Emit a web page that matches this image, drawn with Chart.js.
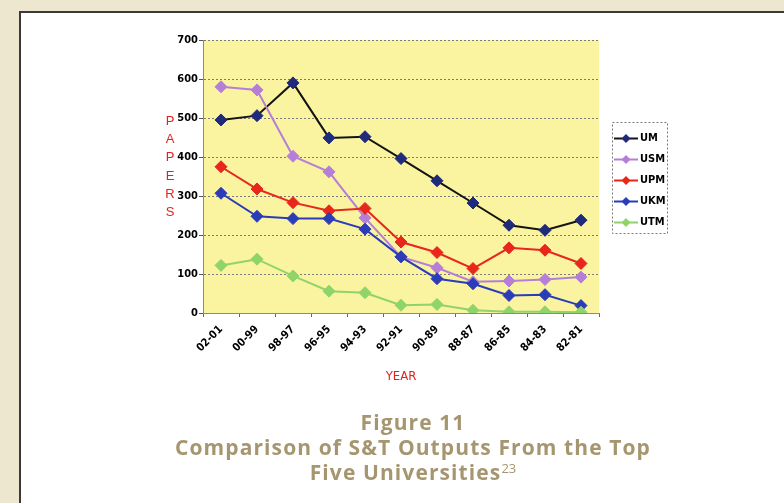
<!DOCTYPE html>
<html><head><meta charset="utf-8">
<script src="https://cdn.jsdelivr.net/npm/chart.js@4.4.0/dist/chart.umd.min.js"></script>
<style>
html,body{margin:0;padding:0;width:784px;height:503px;overflow:hidden;background:#eee7cf;}
#frame{position:absolute;left:19px;top:11px;width:820px;height:540px;background:#fff;border:2px solid #3a3a3a;}
#c{position:absolute;left:0;top:0;}
#ytitle{position:absolute;left:163px;top:112px;width:14px;color:#e3231b;font:13px "Liberation Sans","Arial",sans-serif;line-height:18.2px;text-align:center;}
#xtitle{position:absolute;left:361px;width:80px;top:368px;text-align:center;color:#e3231b;font:13px "DejaVu Sans Condensed",sans-serif;}
#title{position:absolute;left:0;width:826px;top:410px;text-align:center;color:#a69670;font:bold 21px "Open Sans",Lato,sans-serif;line-height:25px;letter-spacing:1.1px;}
#title sup{font-size:13px;vertical-align:top;position:relative;top:-4px;font-weight:normal;letter-spacing:0;}
</style>
</head><body>
<div id="frame"></div>
<canvas id="c" width="784" height="503"></canvas>
<div id="ytitle">P<br>A<br>P<br>E<br>R<br>S</div>
<div id="xtitle">YEAR</div>
<div id="title">Figure 11<br>Comparison of S&amp;T Outputs From the Top<br>Five Universities<sup>23</sup></div>
<script>
const categories = ['02-01','00-99','98-97','96-95','94-93','92-91','90-89','88-87','86-85','84-83','82-81'];
const UM  = [495, 506, 590, 449, 452, 396, 339, 282, 225, 212, 238];
const USM = [580, 572, 402, 362, 244, 144, 116, 80, 82, 86, 92];
const UPM = [375, 318, 283, 262, 268, 182, 155, 114, 167, 161, 127];
const UKM = [307, 248, 242, 242, 215, 144, 88, 75, 45, 47, 19];
const UTM = [122, 138, 95, 56, 52, 20, 22, 7, 3, 3, 2];
const yTicks = [0, 100, 200, 300, 400, 500, 600, 700];

const seriesNames = ['UM','USM','UPM','UKM','UTM'];
const seriesData = [UM, USM, UPM, UKM, UTM];
const lineColors = ['#141414','#b57fd8','#e8261c','#2b3cb8','#8fd46a'];
const pointColors = ['#1f2a7a','#b57fd8','#e8261c','#2b3cb8','#8fd46a'];

const narrow = '"DejaVu Sans Condensed","Liberation Sans Narrow",Arial,sans-serif';

const plotBg = {
  id:'plotBg',
  beforeDraw(chart){
    const a = chart.chartArea, ctx = chart.ctx;
    ctx.save(); ctx.fillStyle = '#faf3a0'; ctx.fillRect(a.left, a.top, a.right-a.left, a.bottom-a.top); ctx.restore();
  }
};

const boxLegend = {
  id:'boxLegend',
  afterDraw(chart){
    const ctx = chart.ctx; ctx.save();
    const x0 = 612, y0 = 122, w = 55, h = 111;
    ctx.setLineDash([2,2]); ctx.strokeStyle = '#777'; ctx.lineWidth = 1;
    ctx.strokeRect(x0+0.5, y0+0.5, w, h);
    ctx.setLineDash([]);
    chart.data.datasets.forEach((ds, i) => {
      const y = 138.5 + i*21;
      ctx.strokeStyle = ds.borderColor; ctx.lineWidth = 2;
      ctx.beginPath(); ctx.moveTo(614, y); ctx.lineTo(638, y); ctx.stroke();
      ctx.fillStyle = ds.pointBackgroundColor;
      ctx.beginPath(); ctx.moveTo(626, y-4.5); ctx.lineTo(630.5, y); ctx.lineTo(626, y+4.5); ctx.lineTo(621.5, y); ctx.closePath(); ctx.fill();
      ctx.fillStyle = '#000'; ctx.font = 'bold 11px ' + narrow; ctx.textBaseline = 'middle';
      ctx.fillText(ds.label, 640, y);
    });
    ctx.restore();
  }
};

new Chart(document.getElementById('c'), {
  type:'line',
  data:{
    labels: categories,
    datasets: seriesNames.map((n, i) => ({
      label: n,
      data: seriesData[i],
      borderColor: lineColors[i],
      backgroundColor: pointColors[i],
      pointBackgroundColor: pointColors[i],
      pointBorderColor: pointColors[i],
      borderWidth: 2,
      pointStyle: 'rectRot',
      pointRadius: 6,
      pointBorderWidth: 1,
      tension: 0,
      fill: false,
      order: 5 - i
    }))
  },
  options:{
    responsive:false,
    animation:false,
    devicePixelRatio:1,
    layout:{padding:{left:150, right:185, top:40, bottom:130}},
    plugins:{legend:{display:false}, tooltip:{enabled:false}, title:{display:false}},
    scales:{
      x:{
        offset:true,
        grid:{offset:true, drawOnChartArea:false, drawTicks:true, tickLength:4, color:'#666'},
        border:{display:true, color:'#8a8a8a', width:1},
        ticks:{minRotation:45, maxRotation:45, autoSkip:false, color:'#000', padding:6,
               font:{family:narrow, size:11, weight:'bold'}},
        afterFit(s){ s.height = 60; }
      },
      y:{
        min:0, max:700,
        afterBuildTicks(s){ s.ticks = yTicks.map(v => ({value:v})); },
        grid:{color:'#7a7a7a', tickLength:4, lineWidth:1, tickColor:'#555'},
        border:{display:true, color:'#8a8a8a', width:1, dash:[2,2]},
        ticks:{color:'#000', padding:1, font:{family:narrow, size:11, weight:'bold'}},
        afterFit(s){ s.width = 53; }
      }
    }
  },
  plugins:[plotBg, boxLegend]
});
</script>
</body></html>
